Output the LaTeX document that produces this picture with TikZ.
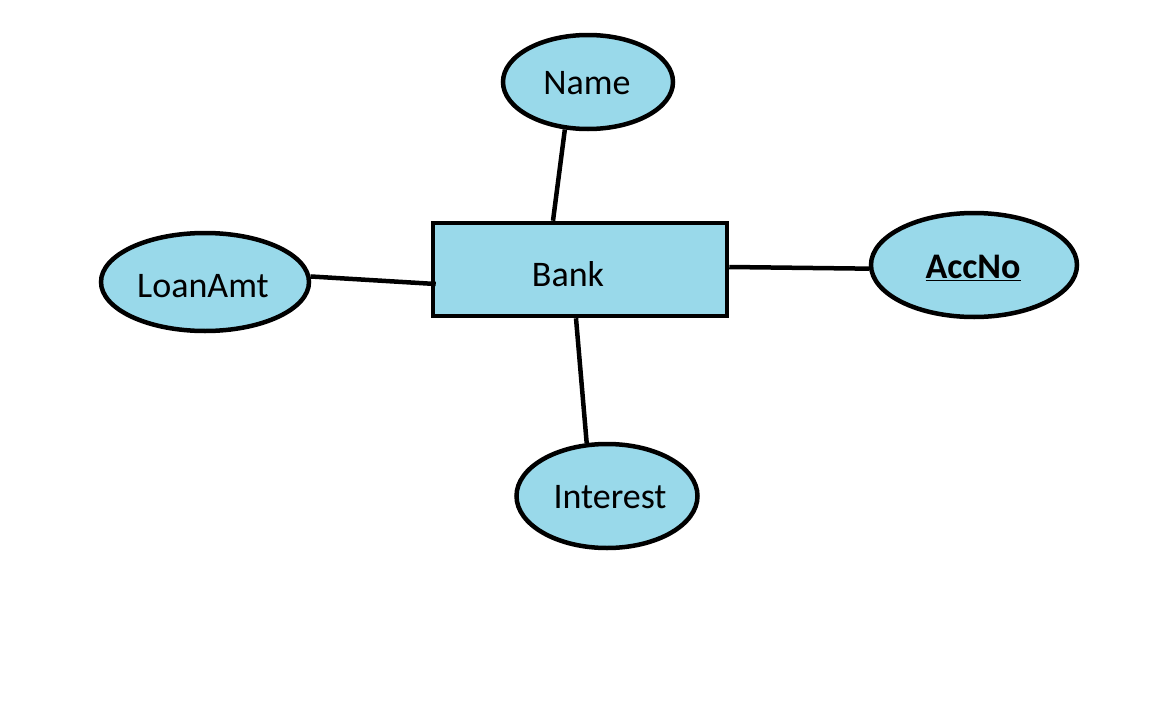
\documentclass[tikz,border=0pt]{standalone}
\usepackage{fontspec}
\setmainfont{Carlito}
\usetikzlibrary{shapes.geometric}
\definecolor{fillblue}{RGB}{153,217,234}
\tikzset{
  attr/.style={ellipse, draw=black, fill=fillblue, line width=4.5pt, inner sep=0pt},
  entity/.style={rectangle, draw=black, fill=fillblue, line width=4.5pt, inner sep=0pt, minimum width=294pt, minimum height=93pt},
  lbl/.style={font=\fontsize{36}{43}\selectfont, inner sep=0pt},
  conn/.style={line width=4.5pt, black}
}
\begin{document}
\begin{tikzpicture}[x=1pt,y=-1pt]
\useasboundingbox (0,0) rectangle (1152,720);
\node[entity] (bank) at (580,269.5) {};
\node[lbl] (banktext) at (568,274) {Bank};
\node[attr, minimum width=170pt, minimum height=94pt] (name) at (588,82) {};
\node[lbl] (nametext) at (587,83) {Name};
\node[attr, minimum width=208pt, minimum height=98pt] (loan) at (205,282) {};
\node[lbl] (loantext) at (203,286) {LoanAmt};
\node[attr, minimum width=206pt, minimum height=104pt] (acc) at (974,265) {};
\node[lbl, font=\fontsize{36}{43}\selectfont\bfseries] (acctext) at (973,268) {\underline{AccNo}};
\node[attr, minimum width=181pt, minimum height=104pt] (interest) at (607,496) {};
\node[lbl] (inttext) at (610,497) {Interest};
\draw[conn] (name.-116) -- ([xshift=-27pt]bank.north);
\draw[conn] (loan.3) -- ([xshift=5pt,yshift=-14.5pt]bank.west);
\draw[conn] ([yshift=2.5pt]bank.east) -- (acc.182);
\draw[conn] ([xshift=-4pt]bank.south) -- (interest.111);
\end{tikzpicture}
\end{document}
